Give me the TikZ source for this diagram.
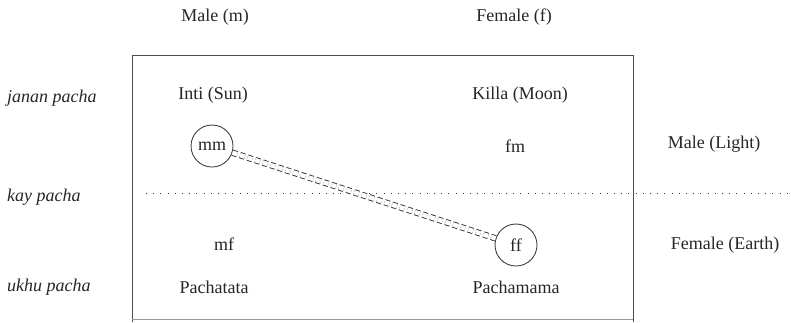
\documentclass[tikz,border=0pt]{standalone}
\usepackage{fontspec}
\setmainfont{Liberation Serif}
\begin{document}
\begin{tikzpicture}[x=1pt,y=-1pt,
  lbl/.style={font=\fontsize{18}{20}\selectfont, inner sep=0pt, anchor=center, text=black!85},
  world/.style={font=\fontsize{18}{20}\selectfont\itshape, inner sep=0pt, anchor=west, text=black!85},
  circ/.style={draw=black!75, circle, minimum size=42pt, inner sep=0pt, font=\fontsize{18}{20}\selectfont, text=black!85, line width=0.9pt},
  link/.style={draw=black!80, dash pattern=on 5pt off 3pt, double=white, double distance=4.5pt, line width=0.9pt}
]
\useasboundingbox (0,0) rectangle (791,322);
% frame
\draw[black!70, line width=1pt] (132,55) -- (633,55) -- (633,322);
\draw[black!70, line width=1pt] (132,55) -- (132,322);
\draw[black!40, line width=0.8pt] (132,319) -- (633,319);
% dotted line
\draw[black!80, line width=1pt, dash pattern=on 1pt off 6.2pt] (146,193) -- (788,193);
% headers
\node[lbl] (male) at (215,17) {Male (m)};
\node[lbl] (female) at (514,17) {Female (f)};
% worlds
\node[world] (janan) at (7,98) {janan pacha};
\node[world] (kay) at (7,197) {kay pacha};
\node[world] (ukhu) at (7,287) {ukhu pacha};
% cells
\node[lbl] (inti) at (213,95) {Inti (Sun)};
\node[lbl] (killa) at (520,95) {Killa (Moon)};
\node[circ] (mm) at (212,146) {mm};
\node[lbl] (fm) at (515,146) {fm};
\node[lbl] (mf) at (224,244) {mf};
\node[circ] (ff) at (516,245) {ff};
\node[lbl] (pachatata) at (214,287) {Pachatata};
\node[lbl] (pachamama) at (516,287) {Pachamama};
% right labels
\node[lbl] (light) at (714,144) {Male (Light)};
\node[lbl] (earth) at (725,245) {Female (Earth)};
% link
\draw[link] (mm) -- (ff);
\end{tikzpicture}
\end{document}
